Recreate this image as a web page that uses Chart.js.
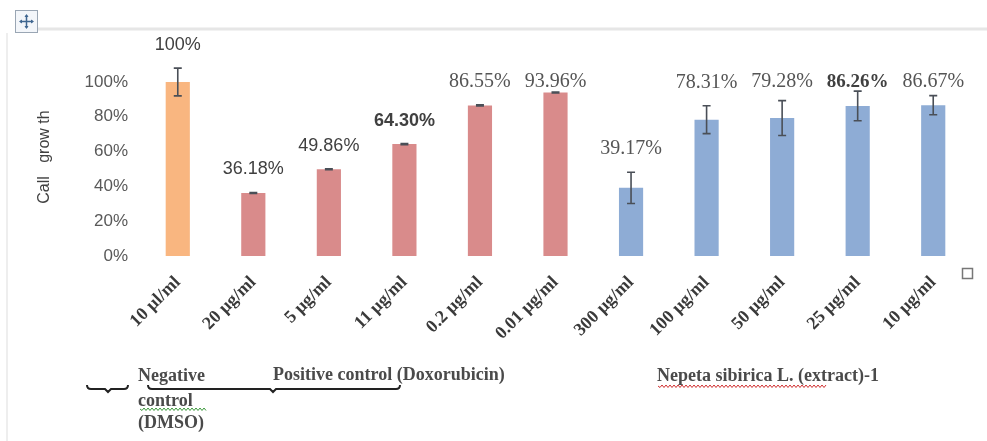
<!DOCTYPE html>
<html>
<head>
<meta charset="utf-8">
<script src="https://cdn.jsdelivr.net/npm/chart.js@4/dist/chart.umd.min.js"></script>
<style>
  html, body { margin: 0; padding: 0; background: #fff; }
  #wrap { width: 987px; height: 441px; }
</style>
</head>
<body>
<div id="wrap"><canvas id="growthChart" width="987" height="441"></canvas></div>
<script>
// concentrations on the x axis
const categories = ['10 µl/ml', '20 µg/ml', '5 µg/ml', '11 µg/ml', '0.2 µg/ml', '0.01 µg/ml',
                    '300 µg/ml', '100 µg/ml', '50 µg/ml', '25 µg/ml', '10 µg/ml'];
// cell growth, % of control
const growth = [100, 36.18, 49.86, 64.30, 86.55, 93.96, 39.17, 78.31, 79.28, 86.26, 86.67];
// +/- error, %
const growthErr = [8, 0.3, 0.3, 0.3, 0.3, 0.3, 9, 8, 10, 8.5, 5.5];
const valueLabels = ['100%', '36.18%', '49.86%', '64.30%', '86.55%', '93.96%',
                     '39.17%', '78.31%', '79.28%', '86.26%', '86.67%'];
const yTicks = [0, 20, 40, 60, 80, 100];
// group of each bar: 0 = DMSO, 1 = doxorubicin, 2 = extract
const groupOf = [0, 1, 1, 1, 1, 1, 2, 2, 2, 2, 2];
const groupNames = ['Negative control (DMSO)', 'Positive control (Doxorubicin)', 'Nepeta sibirica L. (extract)-1'];

const groupColors = ['rgb(249,182,128)', 'rgb(217,139,139)', 'rgb(142,172,213)'];
const labelFace = ['sans', 'sans', 'sans', 'sansb', 'serif', 'serif', 'serif', 'serif', 'serif', 'serifb', 'serif'];

const errorBars = {
  id: 'errorBars',
  afterDatasetsDraw(chart) {
    const ctx = chart.ctx, y = chart.scales.y;
    const meta = chart.getDatasetMeta(0);
    ctx.save();
    ctx.strokeStyle = '#4a4f57';
    ctx.lineWidth = 1.6;
    meta.data.forEach((bar, i) => {
      const top = y.getPixelForValue(growth[i] + growthErr[i]);
      const bot = y.getPixelForValue(growth[i] - growthErr[i]);
      ctx.beginPath();
      ctx.moveTo(bar.x, top); ctx.lineTo(bar.x, bot);
      ctx.moveTo(bar.x - 4, top); ctx.lineTo(bar.x + 4, top);
      ctx.moveTo(bar.x - 4, bot); ctx.lineTo(bar.x + 4, bot);
      ctx.stroke();
    });
    ctx.restore();
  }
};

const barLabels = {
  id: 'barLabels',
  afterDatasetsDraw(chart) {
    const ctx = chart.ctx, y = chart.scales.y;
    const meta = chart.getDatasetMeta(0);
    const capY = y.getPixelForValue(100);
    ctx.save();
    ctx.textAlign = 'center';
    ctx.textBaseline = 'middle';
    meta.data.forEach((bar, i) => {
      let ty = y.getPixelForValue(growth[i] + growthErr[i]) - 23;
      if (growth[i] < 100) ty = Math.max(ty, capY);
      const f = labelFace[i];
      if (f === 'sans') { ctx.font = '18px "Liberation Sans"'; ctx.fillStyle = '#404040'; }
      else if (f === 'sansb') { ctx.font = 'bold 18px "Liberation Sans"'; ctx.fillStyle = '#404040'; }
      else if (f === 'serifb') { ctx.font = 'bold 19px "Liberation Serif"'; ctx.fillStyle = '#404040'; }
      else { ctx.font = '20px "Liberation Serif"'; ctx.fillStyle = '#555'; }
      ctx.fillText(valueLabels[i], bar.x, ty);
    });
    ctx.restore();
  }
};

function brace(ctx, x0, x1, xm, yb) {
  ctx.beginPath();
  ctx.moveTo(x0, yb - 4);
  ctx.quadraticCurveTo(x0, yb, x0 + 4, yb);
  ctx.lineTo(xm - 3, yb);
  ctx.lineTo(xm, yb + 3);
  ctx.lineTo(xm + 3, yb);
  ctx.lineTo(x1 - 4, yb);
  ctx.quadraticCurveTo(x1, yb, x1, yb - 4);
  ctx.stroke();
}

function wavy(ctx, x0, x1, yy, color) {
  ctx.save();
  ctx.strokeStyle = color;
  ctx.lineWidth = 1;
  ctx.beginPath();
  ctx.moveTo(x0, yy);
  for (let x = x0; x < x1; x += 2) ctx.lineTo(x + 2, yy + ((x - x0) % 4 === 0 ? 1.5 : -1));
  ctx.stroke();
  ctx.restore();
}

const frame = {
  id: 'frame',
  beforeDraw(chart) {
    const ctx = chart.ctx;
    ctx.save();
    ctx.fillStyle = '#fff';
    ctx.fillRect(0, 0, chart.width, chart.height);
    // document frame lines
    ctx.strokeStyle = '#e6e6e6';
    ctx.lineWidth = 3;
    ctx.beginPath(); ctx.moveTo(38, 29); ctx.lineTo(987, 29); ctx.stroke();
    ctx.strokeStyle = '#eeeeee';
    ctx.lineWidth = 2;
    ctx.beginPath(); ctx.moveTo(7, 33); ctx.lineTo(7, 441); ctx.stroke();
    // move handle
    ctx.fillStyle = '#f3f6fa';
    ctx.fillRect(15, 10, 23, 23);
    ctx.strokeStyle = '#9aa6b4';
    ctx.lineWidth = 1;
    ctx.strokeRect(15.5, 10.5, 22, 22);
    ctx.strokeStyle = '#3f6690';
    ctx.fillStyle = '#3f6690';
    ctx.lineWidth = 1.5;
    ctx.beginPath(); ctx.moveTo(20, 21.5); ctx.lineTo(33, 21.5); ctx.moveTo(26.5, 15); ctx.lineTo(26.5, 28); ctx.stroke();
    [[19, 21.5, 22, 19.5, 22, 23.5], [34, 21.5, 31, 19.5, 31, 23.5], [26.5, 14, 24.5, 17, 28.5, 17], [26.5, 29, 24.5, 26, 28.5, 26]]
      .forEach(p => { ctx.beginPath(); ctx.moveTo(p[0], p[1]); ctx.lineTo(p[2], p[3]); ctx.lineTo(p[4], p[5]); ctx.fill(); });
    // small square at right
    ctx.strokeStyle = '#777';
    ctx.strokeRect(962.5, 268.5, 10, 10);
    ctx.restore();
  },
  afterDraw(chart) {
    const ctx = chart.ctx;
    ctx.save();
    // y axis title
    ctx.translate(45, 157);
    ctx.rotate(-Math.PI / 2);
    ctx.font = '16px "Liberation Sans"';
    ctx.fillStyle = '#404040';
    ctx.textAlign = 'center';
    ctx.textBaseline = 'middle';
    ctx.fillText('Call   grow th', 0, 0);
    ctx.restore();

    // group captions under the axis
    ctx.save();
    ctx.font = 'bold 18px "Liberation Serif"';
    ctx.fillStyle = '#4a4a4a';
    ctx.textBaseline = 'middle';
    ctx.textAlign = 'left';
    const neg = groupNames[0].split(' ');
    ctx.fillText(neg[0], 138, 376);
    ctx.fillText(neg[1], 138, 401);
    ctx.fillText(neg[2], 138, 423);
    ctx.fillText(groupNames[1], 273, 375);
    ctx.fillText(groupNames[2], 657, 376);
    wavy(ctx, 140, 205, 409, '#3c9a3c');
    wavy(ctx, 658, 825, 386, '#d03030');
    ctx.strokeStyle = '#222';
    ctx.lineWidth = 2;
    brace(ctx, 87, 128, 108, 389);
    brace(ctx, 148, 400, 273, 389);
    ctx.restore();
  }
};

const ctx = document.getElementById('growthChart').getContext('2d');
new Chart(ctx, {
  type: 'bar',
  data: {
    labels: categories,
    datasets: [{
      data: growth,
      backgroundColor: groupOf.map(g => groupColors[g]),
      borderWidth: 0,
      barPercentage: 0.32,
      categoryPercentage: 1
    }]
  },
  options: {
    responsive: false,
    animation: false,
    layout: { padding: { top: 82, right: 16, left: 0, bottom: 0 } },
    plugins: { legend: { display: false }, tooltip: { enabled: false } },
    scales: {
      x: {
        grid: { display: false },
        border: { display: false },
        afterFit: s => { s.height = 185; },
        ticks: {
          minRotation: 45,
          maxRotation: 45,
          padding: 8,
          color: '#3a3a3a',
          font: { family: 'Liberation Serif', size: 18, weight: 'bold' }
        }
      },
      y: {
        min: 0,
        max: 100,
        grid: { display: false, drawTicks: false },
        border: { display: false },
        afterFit: s => { s.width = 140; },
        afterBuildTicks: s => { s.ticks = yTicks.map(v => ({ value: v })); },
        ticks: {
          padding: 12,
          color: '#595959',
          font: { family: 'Liberation Sans', size: 17 },
          callback: v => v + '%'
        }
      }
    }
  },
  plugins: [frame, errorBars, barLabels]
});
</script>
</body>
</html>
